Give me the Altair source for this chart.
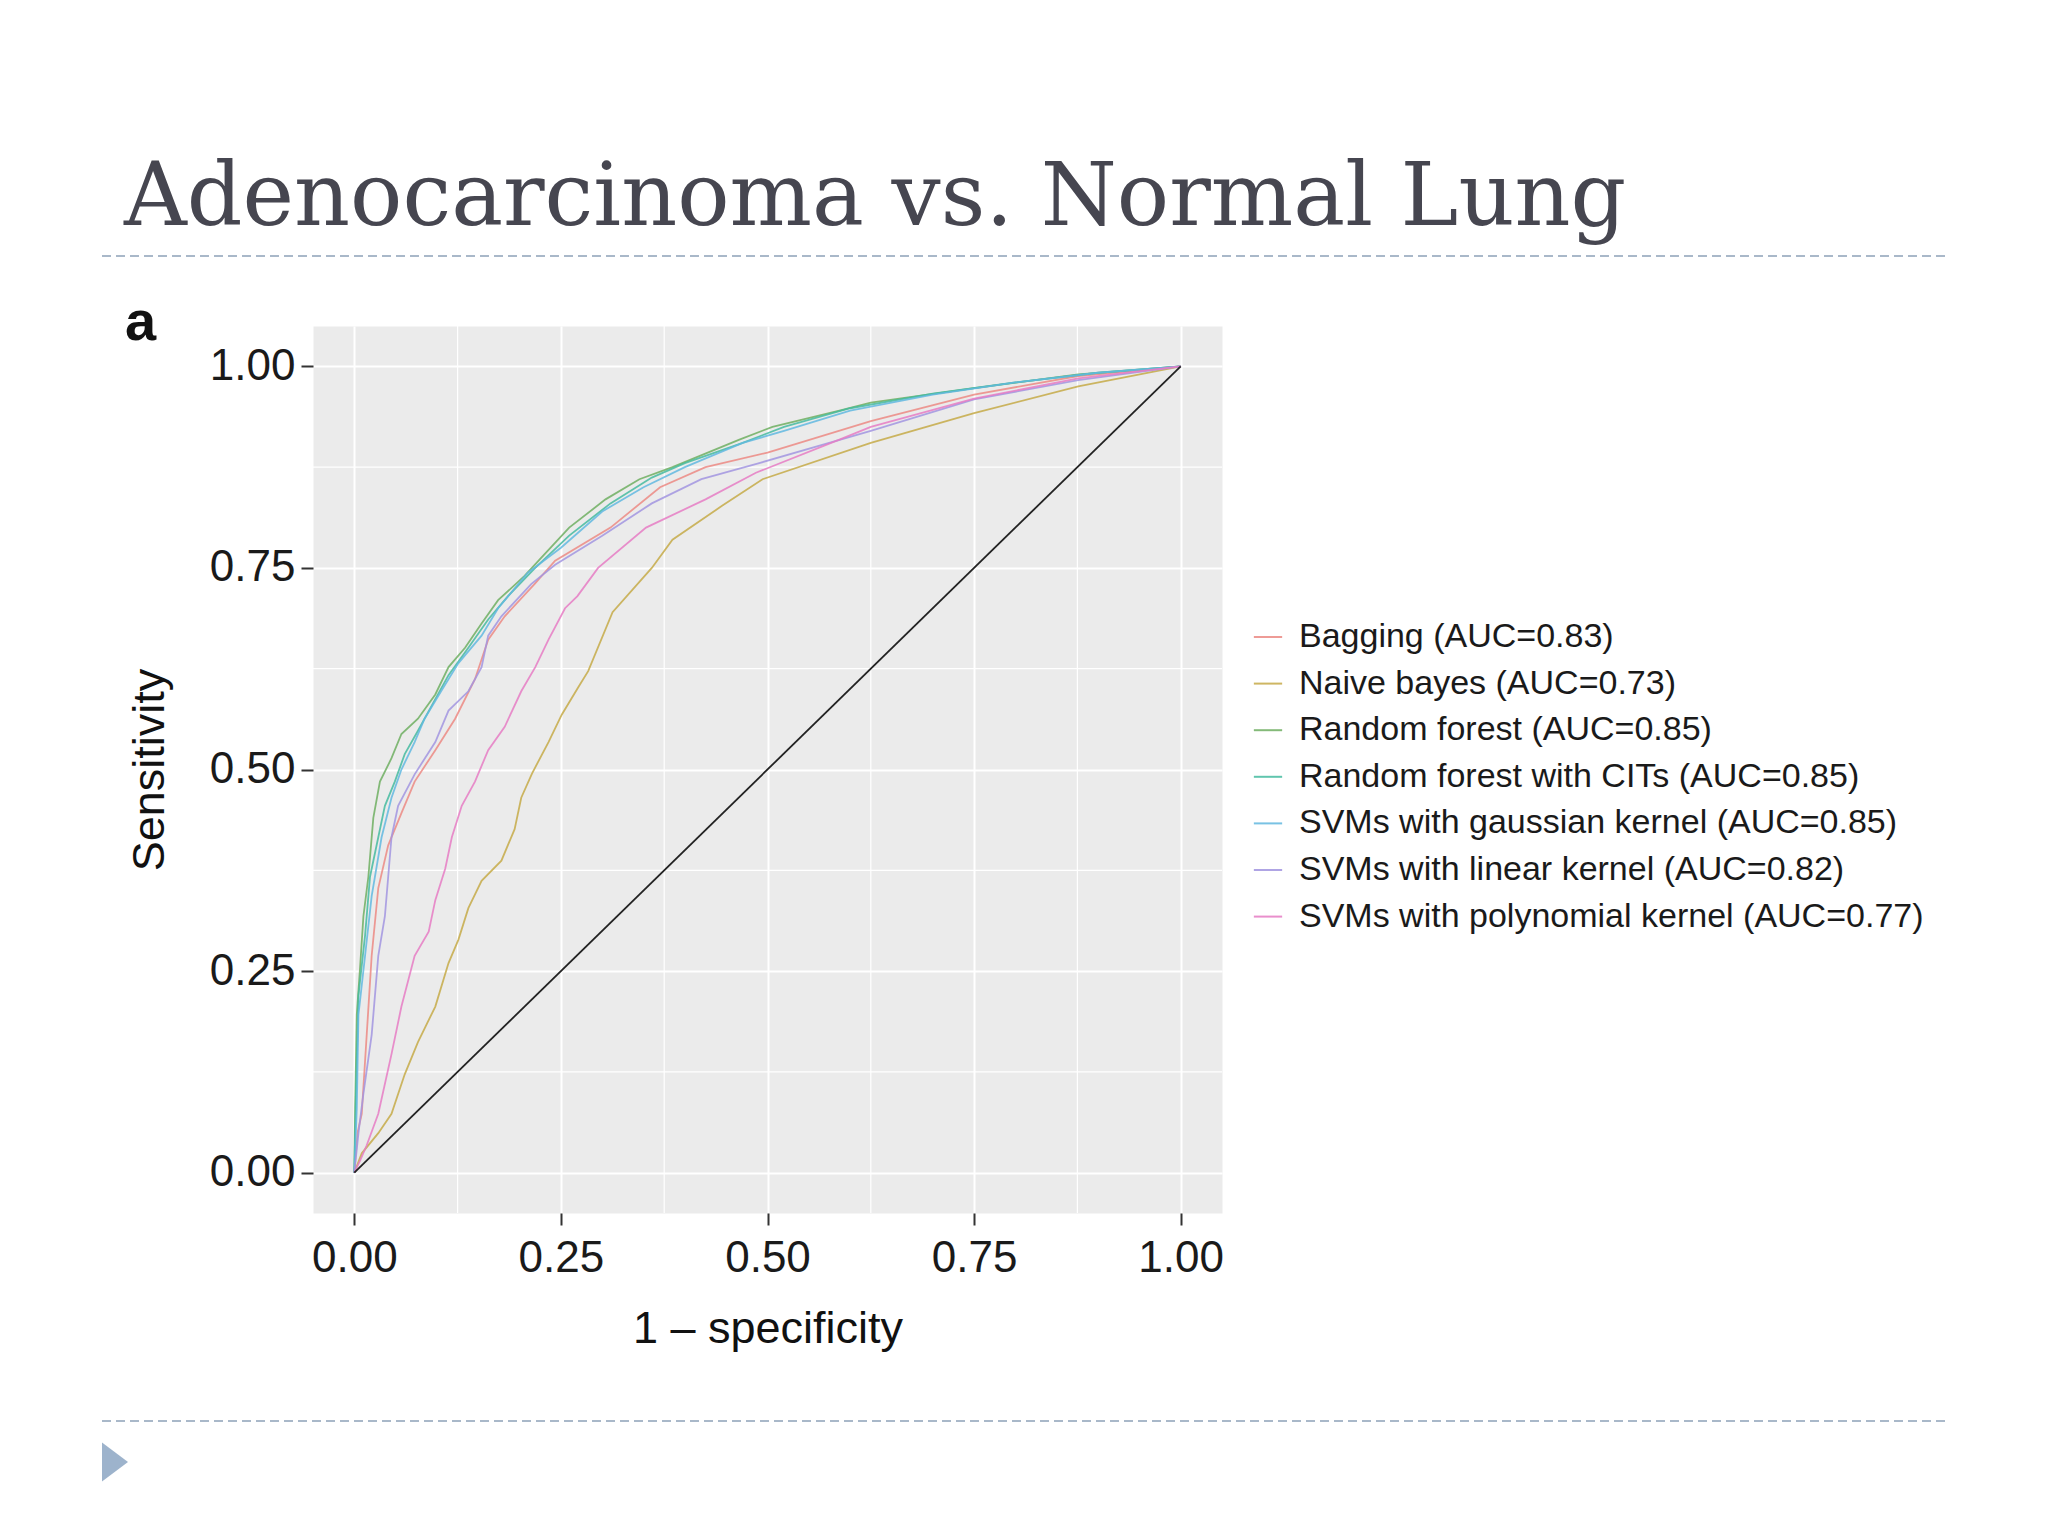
import altair as alt
import pandas as pd

# slide text
slide_title = "Adenocarcinoma vs. Normal Lung"
panel_tag = "a"
x_title = "1 – specificity"
y_title = "Sensitivity"

# legend labels, in legend order, with ggplot hue colours
models = [
    "Bagging (AUC=0.83)",
    "Naive bayes (AUC=0.73)",
    "Random forest (AUC=0.85)",
    "Random forest with CITs (AUC=0.85)",
    "SVMs with gaussian kernel (AUC=0.85)",
    "SVMs with linear kernel (AUC=0.82)",
    "SVMs with polynomial kernel (AUC=0.77)",
]
colors = ["#EC8A84", "#C6AA48", "#6FAF62", "#45BBA0", "#62B8E0", "#A295E0", "#E67CC4"]

# ROC curves (1 - specificity, sensitivity)
bagging_fpr = [0, 0.004, 0.009, 0.015, 0.021, 0.029, 0.041, 0.057, 0.073, 0.098, 0.122, 0.146, 0.162, 0.182, 0.218, 0.243, 0.31, 0.37, 0.425, 0.5, 0.625, 0.75, 0.876, 1]
bagging_tpr = [0, 0.05, 0.073, 0.171, 0.269, 0.353, 0.406, 0.446, 0.485, 0.524, 0.563, 0.612, 0.661, 0.69, 0.73, 0.759, 0.80, 0.85, 0.875, 0.893, 0.932, 0.965, 0.988, 1]

naive_fpr = [0, 0.009, 0.029, 0.045, 0.061, 0.077, 0.098, 0.114, 0.126, 0.138, 0.154, 0.178, 0.194, 0.202, 0.215, 0.235, 0.251, 0.271, 0.283, 0.3125, 0.36, 0.385, 0.445, 0.494, 0.625, 0.75, 0.876, 1]
naive_tpr = [0, 0.024, 0.049, 0.073, 0.122, 0.162, 0.206, 0.26, 0.289, 0.328, 0.362, 0.387, 0.426, 0.465, 0.495, 0.534, 0.568, 0.602, 0.622, 0.695, 0.75, 0.785, 0.827, 0.86, 0.905, 0.942, 0.975, 1]

rf_fpr = [0, 0.001, 0.003, 0.007, 0.011, 0.017, 0.023, 0.031, 0.045, 0.057, 0.077, 0.098, 0.114, 0.134, 0.154, 0.174, 0.206, 0.223, 0.26, 0.304, 0.345, 0.385, 0.466, 0.506, 0.587, 0.625, 0.75, 0.876, 1]
rf_tpr = [0, 0.08, 0.196, 0.255, 0.318, 0.367, 0.44, 0.485, 0.514, 0.544, 0.563, 0.593, 0.627, 0.651, 0.681, 0.71, 0.74, 0.759, 0.80, 0.835, 0.86, 0.875, 0.909, 0.925, 0.945, 0.955, 0.973, 0.99, 1]

cit_fpr = [0, 0.002, 0.005, 0.013, 0.019, 0.029, 0.037, 0.049, 0.061, 0.077, 0.093, 0.114, 0.138, 0.162, 0.186, 0.218, 0.26, 0.31, 0.36, 0.4, 0.47, 0.52, 0.6, 0.7, 0.8, 0.9, 1]
cit_tpr = [0, 0.1, 0.22, 0.294, 0.367, 0.416, 0.455, 0.485, 0.519, 0.548, 0.578, 0.617, 0.651, 0.686, 0.715, 0.749, 0.79, 0.83, 0.862, 0.88, 0.905, 0.925, 0.948, 0.966, 0.98, 0.992, 1]

gauss_fpr = [0, 0.003, 0.005, 0.013, 0.021, 0.033, 0.045, 0.057, 0.073, 0.085, 0.105, 0.126, 0.154, 0.174, 0.21, 0.25, 0.3, 0.35, 0.4, 0.47, 0.52, 0.6, 0.7, 0.8, 0.9, 1]
gauss_tpr = [0, 0.08, 0.196, 0.269, 0.343, 0.416, 0.465, 0.5, 0.534, 0.563, 0.597, 0.632, 0.666, 0.70, 0.744, 0.775, 0.82, 0.85, 0.875, 0.905, 0.92, 0.945, 0.965, 0.98, 0.992, 1]

linear_fpr = [0, 0.005, 0.011, 0.021, 0.029, 0.037, 0.041, 0.045, 0.053, 0.073, 0.098, 0.114, 0.138, 0.154, 0.162, 0.178, 0.214, 0.243, 0.3, 0.36, 0.42, 0.49, 0.625, 0.75, 0.876, 1]
linear_tpr = [0, 0.049, 0.098, 0.171, 0.269, 0.318, 0.367, 0.416, 0.455, 0.494, 0.534, 0.573, 0.597, 0.627, 0.666, 0.69, 0.73, 0.754, 0.79, 0.83, 0.86, 0.88, 0.92, 0.959, 0.983, 1]

poly_fpr = [0, 0.007, 0.015, 0.029, 0.045, 0.057, 0.073, 0.09, 0.098, 0.11, 0.118, 0.13, 0.146, 0.162, 0.182, 0.202, 0.219, 0.235, 0.255, 0.27, 0.295, 0.353, 0.425, 0.486, 0.587, 0.625, 0.75, 0.876, 1]
poly_tpr = [0, 0.015, 0.034, 0.073, 0.147, 0.206, 0.269, 0.299, 0.338, 0.377, 0.416, 0.455, 0.485, 0.524, 0.553, 0.597, 0.627, 0.661, 0.70, 0.715, 0.75, 0.80, 0.835, 0.868, 0.909, 0.925, 0.96, 0.985, 1]

chance_line = [0, 1]
major_ticks = [0, 0.25, 0.5, 0.75, 1]
minor_grid = [0.125, 0.375, 0.625, 0.875]

curves = [
    (bagging_fpr, bagging_tpr),
    (naive_fpr, naive_tpr),
    (rf_fpr, rf_tpr),
    (cit_fpr, cit_tpr),
    (gauss_fpr, gauss_tpr),
    (linear_fpr, linear_tpr),
    (poly_fpr, poly_tpr),
]

rows = []
for name, (fpr, tpr) in zip(models, curves):
    for i, (a, b) in enumerate(zip(fpr, tpr)):
        rows.append({"model": name, "fpr": a, "tpr": b, "step": i})
roc = pd.DataFrame(rows)

xs = alt.Scale(domain=[-0.05, 1.05], nice=False, zero=False)
ys = alt.Scale(domain=[-0.05, 1.05], nice=False, zero=False)
x_axis = alt.Axis(values=major_ticks, format=".2f", labelPadding=11, titlePadding=26)
y_axis = alt.Axis(values=major_ticks, format=".2f", labelPadding=6, titlePadding=37)
one = pd.DataFrame({"k": [0]})

minor_v = alt.Chart(pd.DataFrame({"v": minor_grid})).mark_rule(
    color="white", strokeWidth=1.2
).encode(x=alt.X("v:Q", scale=xs, axis=x_axis, title=x_title))

minor_h = alt.Chart(pd.DataFrame({"v": minor_grid})).mark_rule(
    color="white", strokeWidth=1.2
).encode(y=alt.Y("v:Q", scale=ys, axis=y_axis, title=y_title))

lines = alt.Chart(roc).mark_line(strokeWidth=1.8, opacity=0.85).encode(
    x=alt.X("fpr:Q", scale=xs, axis=x_axis, title=x_title),
    y=alt.Y("tpr:Q", scale=ys, axis=y_axis, title=y_title),
    color=alt.Color("model:N", scale=alt.Scale(domain=models, range=colors),
                    legend=alt.Legend(orient="none", legendX=938, legendY=294, title=None,
                                      symbolType="stroke", symbolStrokeWidth=2, symbolSize=800,
                                      labelFont="Liberation Sans", labelFontSize=34,
                                      labelColor="#1a1a1a", labelLimit=900,
                                      rowPadding=12.6, labelOffset=14)),
    order="step:Q",
)

diag = alt.Chart(pd.DataFrame({"x": chance_line, "y": chance_line})).mark_line(
    color="#222222", strokeWidth=1.8
).encode(
    x=alt.X("x:Q", scale=xs, axis=x_axis, title=x_title),
    y=alt.Y("y:Q", scale=ys, axis=y_axis, title=y_title),
)

title_text = alt.Chart(one).mark_text(
    text=slide_title, font="DejaVu Serif", fontSize=87, color="#464650",
    align="left", baseline="alphabetic"
).encode(x=alt.value(-189), y=alt.value(-101))

tag_text = alt.Chart(one).mark_text(
    text=panel_tag, font="Liberation Sans", fontWeight="bold", fontSize=56, color="#111111",
    align="left", baseline="alphabetic"
).encode(x=alt.value(-188), y=alt.value(14))

top_rule = alt.Chart(one).mark_rule(color="#A9B8C9", strokeWidth=2, strokeDash=[9, 5]).encode(
    x=alt.value(-211), x2=alt.value(1633), y=alt.value(-70)
)
bottom_rule = alt.Chart(one).mark_rule(color="#A9B8C9", strokeWidth=2, strokeDash=[9, 5]).encode(
    x=alt.value(-211), x2=alt.value(1633), y=alt.value(1095)
)
bullet = alt.Chart(one).mark_point(
    shape="M-0.667,-1L0.667,0L-0.667,1Z", filled=True, color="#9DB3CC", size=1521, opacity=1
).encode(x=alt.value(-198), y=alt.value(1136))

chart = alt.layer(
    minor_v, minor_h, lines, diag, title_text, tag_text, top_rule, bottom_rule, bullet
).properties(
    width=909,
    height=887,
    autosize="none",
    padding={"left": 305, "top": 318, "right": 816, "bottom": 313},
).configure_view(
    fill="#EBEBEB", stroke="transparent"
).configure_axis(
    domain=False,
    grid=True,
    gridColor="white",
    gridWidth=2,
    tickColor="#333333",
    tickWidth=2,
    tickSize=12,
    labelFont="Liberation Sans",
    labelFontSize=44,
    labelColor="#1a1a1a",
    titleFont="Liberation Sans",
    titleFontSize=45,
    titleFontWeight="normal",
    titleColor="#111111",
)

chart.save("out.html", embed_options={"renderer": "svg", "actions": False})
